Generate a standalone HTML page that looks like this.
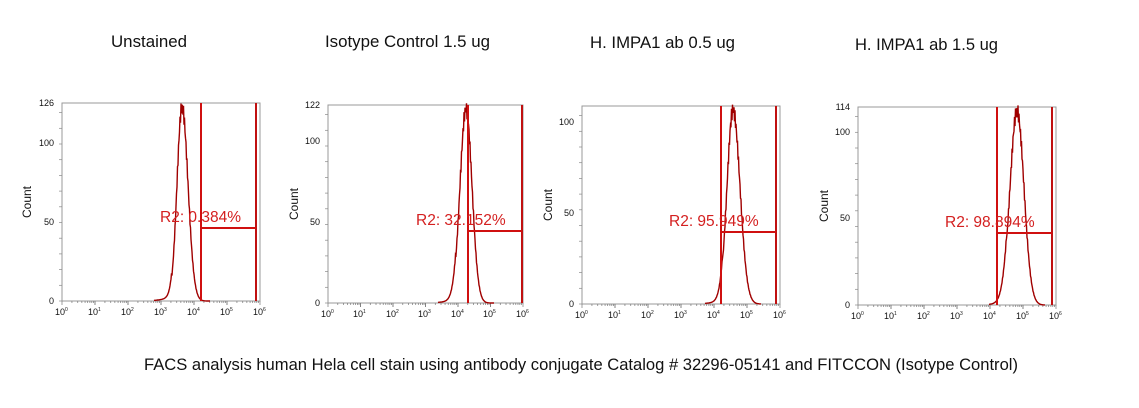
<!DOCTYPE html>
<html><head><meta charset="utf-8"><style>
html,body{margin:0;padding:0;background:#fff;width:1139px;height:408px;overflow:hidden}
svg{display:block}
.t{font-family:"Liberation Sans",sans-serif;font-size:16.8px;fill:#111}
.tk{font-family:"Liberation Sans",sans-serif;font-size:9px;fill:#111}
.sp{font-size:5px}
.r2{font-family:"Liberation Sans",sans-serif;font-size:15.5px;fill:#d42020}
.cnt{font-family:"Liberation Sans",sans-serif;font-size:12px;fill:#111}
</style></head><body>
<svg id="s" width="1139" height="408" xmlns="http://www.w3.org/2000/svg">
<g id="plots"></g>
<text class="t" x="111" y="47" textLength="76" lengthAdjust="spacingAndGlyphs">Unstained</text>
<text class="t" x="325" y="47" textLength="165" lengthAdjust="spacingAndGlyphs">Isotype Control 1.5 ug</text>
<text class="t" x="590" y="48" textLength="145" lengthAdjust="spacingAndGlyphs">H. IMPA1 ab 0.5 ug</text>
<text class="t" x="855" y="50" textLength="143" lengthAdjust="spacingAndGlyphs">H. IMPA1 ab 1.5 ug</text>
<text class="t" x="144" y="370" textLength="874" lengthAdjust="spacingAndGlyphs">FACS analysis human Hela cell stain using antibody conjugate Catalog # 32296-05141 and FITCCON (Isotype Control)</text>

<text class="r2" x="160" y="222">R2: 0.384%</text>
<text class="r2" x="416" y="225">R2: 32.152%</text>
<text class="r2" x="669" y="226">R2: 95.949%</text>
<text class="r2" x="945" y="227">R2: 98.894%</text>

<text class="cnt" transform="translate(31,202) rotate(-90)" text-anchor="middle">Count</text>
<text class="cnt" transform="translate(298,204) rotate(-90)" text-anchor="middle">Count</text>
<text class="cnt" transform="translate(552,205) rotate(-90)" text-anchor="middle">Count</text>
<text class="cnt" transform="translate(828,206) rotate(-90)" text-anchor="middle">Count</text>

<g class="tk" text-anchor="end">
<text x="54" y="106">126</text><text x="54" y="146">100</text><text x="54" y="225">50</text><text x="54" y="304">0</text>
<text x="320" y="108">122</text><text x="320" y="144">100</text><text x="320" y="225">50</text><text x="320" y="306">0</text>
<text x="574" y="125">100</text><text x="574" y="216">50</text><text x="574" y="307">0</text>
<text x="850" y="110">114</text><text x="850" y="135">100</text><text x="850" y="221">50</text><text x="850" y="308">0</text>
</g>
<g class="tk" id="xl">
<text x="55" y="315">10<tspan class="sp" dy="-4">0</tspan></text>
<text x="88" y="315">10<tspan class="sp" dy="-4">1</tspan></text>
<text x="121" y="315">10<tspan class="sp" dy="-4">2</tspan></text>
<text x="154" y="315">10<tspan class="sp" dy="-4">3</tspan></text>
<text x="187" y="315">10<tspan class="sp" dy="-4">4</tspan></text>
<text x="220" y="315">10<tspan class="sp" dy="-4">5</tspan></text>
<text x="253" y="315">10<tspan class="sp" dy="-4">6</tspan></text>
<text x="321" y="317">10<tspan class="sp" dy="-4">0</tspan></text>
<text x="353" y="317">10<tspan class="sp" dy="-4">1</tspan></text>
<text x="386" y="317">10<tspan class="sp" dy="-4">2</tspan></text>
<text x="418" y="317">10<tspan class="sp" dy="-4">3</tspan></text>
<text x="451" y="317">10<tspan class="sp" dy="-4">4</tspan></text>
<text x="483" y="317">10<tspan class="sp" dy="-4">5</tspan></text>
<text x="516" y="317">10<tspan class="sp" dy="-4">6</tspan></text>
<text x="575" y="318">10<tspan class="sp" dy="-4">0</tspan></text>
<text x="608" y="318">10<tspan class="sp" dy="-4">1</tspan></text>
<text x="641" y="318">10<tspan class="sp" dy="-4">2</tspan></text>
<text x="674" y="318">10<tspan class="sp" dy="-4">3</tspan></text>
<text x="707" y="318">10<tspan class="sp" dy="-4">4</tspan></text>
<text x="740" y="318">10<tspan class="sp" dy="-4">5</tspan></text>
<text x="773" y="318">10<tspan class="sp" dy="-4">6</tspan></text>
<text x="851" y="319">10<tspan class="sp" dy="-4">0</tspan></text>
<text x="884" y="319">10<tspan class="sp" dy="-4">1</tspan></text>
<text x="917" y="319">10<tspan class="sp" dy="-4">2</tspan></text>
<text x="950" y="319">10<tspan class="sp" dy="-4">3</tspan></text>
<text x="983" y="319">10<tspan class="sp" dy="-4">4</tspan></text>
<text x="1016" y="319">10<tspan class="sp" dy="-4">5</tspan></text>
<text x="1049" y="319">10<tspan class="sp" dy="-4">6</tspan></text>
</g>
</svg>
<script>
var P=[
{x0:62,x1:260,y0:103,y1:301,g1:201,g2:256,h:228,pk:182,sl:5,sr:6},
{x0:328,x1:523,y0:105,y1:303,g1:468,g2:522,h:231,pk:466,sl:6,sr:6},
{x0:582,x1:780,y0:106,y1:304,g1:721,g2:776,h:232,pk:733,sl:6,sr:7},
{x0:858,x1:1056,y0:107,y1:305,g1:997,g2:1052,h:233,pk:1017,sl:7,sr:7}];
var g=document.getElementById("plots"),h="";
P.forEach(function(p,i){
 h+='<rect x="'+p.x0+'" y="'+p.y0+'" width="'+(p.x1-p.x0)+'" height="'+(p.y1-p.y0)+'" fill="none" stroke="#999" stroke-width="1"/>';
 var d=(p.x1-p.x0)/6;
 for(var k=0;k<6;k++)for(var m=1;m<=10;m++){var x=p.x0+d*k+d*Math.log10(m);var L=(m==1||m==10)?4:2;h+='<line x1="'+x+'" y1="'+p.y1+'" x2="'+x+'" y2="'+(p.y1+L)+'" stroke="#777" stroke-width="0.7"/>';}
 for(var y=p.y1;y>p.y0;y-=15.7){h+='<line x1="'+(p.x0-3)+'" y1="'+y+'" x2="'+p.x0+'" y2="'+y+'" stroke="#888" stroke-width="0.7"/>';}
 var pts=[];var H=p.y1-p.y0;
 for(var x=p.pk-28;x<=p.pk+28;x+=0.5){var s=x<p.pk?p.sl:p.sr;var v=Math.exp(-Math.pow(x-p.pk,2)/(2*s*s));v+=(Math.sin(x*7.3+i)*0.04)*v; if(x<p.pk-10)v+=0.03*Math.exp(-(p.pk-10-x)/8);
  pts.push(x.toFixed(1)+","+(p.y1-v*H*0.98).toFixed(1));}
 h+='<polyline points="'+pts.join(" ")+'" fill="none" stroke="#a00000" stroke-width="1.4"/>';
 h+='<line x1="'+p.g1+'" y1="'+p.y0+'" x2="'+p.g1+'" y2="'+p.y1+'" stroke="#d01010" stroke-width="2"/>';
 h+='<line x1="'+p.g2+'" y1="'+p.y0+'" x2="'+p.g2+'" y2="'+p.y1+'" stroke="#c01010" stroke-width="2"/>';
 h+='<line x1="'+p.g1+'" y1="'+p.h+'" x2="'+p.g2+'" y2="'+p.h+'" stroke="#d01010" stroke-width="2"/>';
});
g.innerHTML=h;
</script>
</body></html>
